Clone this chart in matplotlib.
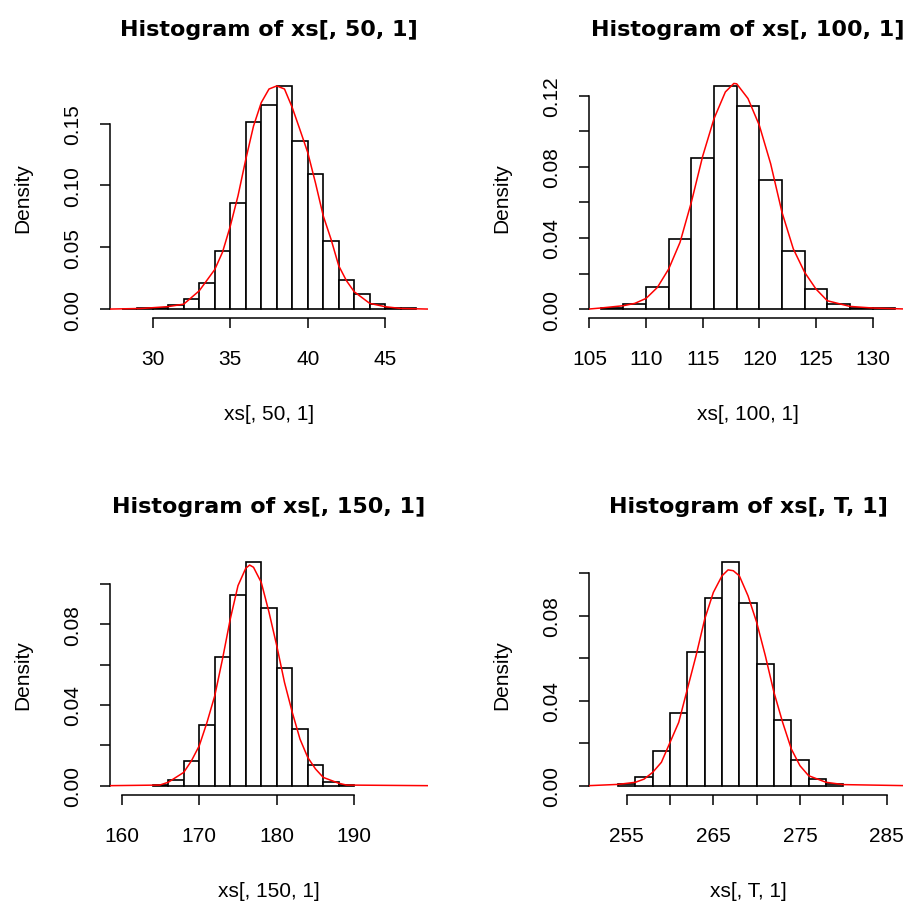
import matplotlib
matplotlib.use('Agg')
import matplotlib.pyplot as plt
import numpy as np

W, H = 904, 903

titles = ['Histogram of xs[, 50, 1]', 'Histogram of xs[, 100, 1]',
          'Histogram of xs[, 150, 1]', 'Histogram of xs[, T, 1]']
xlabels = ['xs[, 50, 1]', 'xs[, 100, 1]', 'xs[, 150, 1]', 'xs[, T, 1]']

# histogram breaks and densities
p1_breaks = list(range(28, 48))
p1_dens = [0.0, 0.0005, 0.001, 0.003, 0.008, 0.0207, 0.0469, 0.0856, 0.151,
           0.165, 0.1805, 0.136, 0.1093, 0.0552, 0.0237, 0.0121, 0.004,
           0.001, 0.0008]
p2_breaks = list(range(106, 133, 2))
p2_dens = [0.0006, 0.0028, 0.0122, 0.0395, 0.085, 0.1256, 0.1142, 0.0726,
           0.0329, 0.0113, 0.0028, 0.0006, 0.0008]
p3_breaks = list(range(164, 191, 2))
p3_dens = [0.0003, 0.003, 0.012, 0.0299, 0.064, 0.0947, 0.1107, 0.0879,
           0.0582, 0.0281, 0.0102, 0.0017, 0.0003]
p4_breaks = list(range(254, 281, 2))
p4_dens = [0.0006, 0.0041, 0.0162, 0.034, 0.063, 0.0882, 0.1051, 0.0858,
           0.0574, 0.0307, 0.0121, 0.0031, 0.0006]

# density curves (red)
p1_cx = [27.2, 29.3, 31, 32, 33, 34, 34.5, 35, 35.5, 36, 36.5, 37, 37.5, 38,
         38.5, 39, 39.5, 40, 40.5, 41, 41.5, 42, 42.5, 43, 44, 45, 46, 47.8]
p1_cy = [0.0, 0.0005, 0.002, 0.004, 0.0148, 0.032, 0.046, 0.067, 0.0916,
         0.121, 0.148, 0.167, 0.178, 0.1805, 0.178, 0.163, 0.145, 0.1266,
         0.102, 0.0754, 0.0566, 0.035, 0.0229, 0.014, 0.0046, 0.0019,
         0.0005, 0.0]
p2_cx = [104.9, 106, 108, 109, 110, 111, 112, 113, 114, 115, 116, 117,
         117.75, 118, 119, 120, 121, 122, 123, 124, 125, 126, 128, 130, 133.1]
p2_cy = [0.0, 0.0006, 0.0019, 0.0032, 0.006, 0.0122, 0.0226, 0.0376, 0.0602,
         0.0861, 0.1072, 0.1222, 0.127, 0.1268, 0.1185, 0.1034, 0.0818,
         0.0545, 0.0339, 0.0207, 0.0113, 0.0047, 0.0015, 0.0006, 0.0]
p3_cx = [158.4, 164.9, 166, 168, 169, 170, 171, 172, 173, 174, 175, 176,
         176.5, 177, 178, 179, 180, 181, 182, 183, 184, 185, 186, 188, 189,
         199.6]
p3_cy = [0.0, 0.0003, 0.0017, 0.0066, 0.0124, 0.0198, 0.0314, 0.0446,
         0.0628, 0.0826, 0.0992, 0.1078, 0.1094, 0.1083, 0.1008, 0.086,
         0.0694, 0.0512, 0.0364, 0.0231, 0.014, 0.0083, 0.0041, 0.0012,
         0.0003, 0.0]
p4_cx = [250.6, 254, 256, 257, 258, 259, 260, 261, 262, 263, 264, 265, 266,
         266.7, 267.3, 268, 269, 270, 271, 272, 273, 274, 275, 276, 278, 280,
         287.4]
p4_cy = [0.0, 0.0006, 0.0016, 0.0031, 0.0063, 0.011, 0.0204, 0.0298, 0.0455,
         0.0612, 0.0784, 0.091, 0.0988, 0.1016, 0.1012, 0.0988, 0.0894,
         0.0769, 0.0612, 0.0439, 0.0298, 0.0173, 0.0094, 0.0047, 0.0016,
         0.0005, 0.0]

# axis ticks
p1_xticks = [30, 35, 40, 45]
p1_xlabels = ['30', '35', '40', '45']
p1_yticks = [0.0, 0.05, 0.10, 0.15]
p1_ylabels = ['0.00', '0.05', '0.10', '0.15']
p2_xticks = [105, 110, 115, 120, 125, 130]
p2_xlabels = ['105', '110', '115', '120', '125', '130']
p2_yticks = [0.0, 0.02, 0.04, 0.06, 0.08, 0.10, 0.12]
p2_ylabels = ['0.00', '', '0.04', '', '0.08', '', '0.12']
p3_xticks = [160, 170, 180, 190]
p3_xlabels = ['160', '170', '180', '190']
p3_yticks = [0.0, 0.02, 0.04, 0.06, 0.08, 0.10]
p3_ylabels = ['0.00', '', '0.04', '', '0.08', '']
p4_xticks = [255, 260, 265, 270, 275, 280, 285]
p4_xlabels = ['255', '', '265', '', '275', '', '285']
p4_yticks = [0.0, 0.02, 0.04, 0.06, 0.08, 0.10]
p4_ylabels = ['0.00', '', '0.04', '', '0.08', '']

# x range used by each plot (R style, 4% padding)
p1_xrange = (28, 47)
p2_xrange = (106, 132)
p3_xrange = (160, 198)
p4_xrange = (252, 286)

panels = [
    (p1_breaks, p1_dens, p1_cx, p1_cy, p1_xticks, p1_xlabels, p1_yticks, p1_ylabels, p1_xrange),
    (p2_breaks, p2_dens, p2_cx, p2_cy, p2_xticks, p2_xlabels, p2_yticks, p2_ylabels, p2_xrange),
    (p3_breaks, p3_dens, p3_cx, p3_cy, p3_xticks, p3_xlabels, p3_yticks, p3_ylabels, p3_xrange),
    (p4_breaks, p4_dens, p4_cx, p4_cy, p4_xticks, p4_xlabels, p4_yticks, p4_ylabels, p4_xrange),
]

# plot regions in pixels: left, right, top, bottom
boxes = [(110, 428, 78, 319), (589, 907, 78, 319),
         (110, 428, 554.5, 795.6), (589, 907, 554.5, 795.6)]

AX_FONT = ['Liberation Sans', 'DejaVu Sans']
TITLE_FONT = ['DejaVu Sans']

fig = plt.figure(figsize=(W / 100, H / 100), dpi=100)

for i, (br, dens, cx, cy, xt, xl, yt, yl, xr) in enumerate(panels):
    l, r, t, b = boxes[i]
    ax = fig.add_axes([l / W, 1 - b / H, (r - l) / W, (b - t) / H])
    ax.patch.set_alpha(0)
    br = np.array(br, dtype=float)
    ax.bar(br[:-1], dens, width=np.diff(br), align='edge', color='white',
           edgecolor='black', linewidth=1.2, zorder=2)
    ax.plot(cx, cy, color='#ff0000', linewidth=1.1, zorder=3)

    span = xr[1] - xr[0]
    ax.set_xlim(xr[0] - 0.04 * span, xr[1] + 0.04 * span)
    ymax = max(dens)
    ax.set_ylim(-0.04 * ymax, 1.04 * ymax)

    for s in ('top', 'right'):
        ax.spines[s].set_visible(False)
    ax.spines['left'].set_bounds(yt[0], yt[-1])
    ax.spines['bottom'].set_bounds(xt[0], xt[-1])
    for s in ('left', 'bottom'):
        ax.spines[s].set_linewidth(1.1)

    ax.set_xticks(xt)
    ax.set_xticklabels(xl, family=AX_FONT, fontsize=15)
    ax.set_yticks(yt)
    ax.set_yticklabels(yl, family=AX_FONT, fontsize=15, rotation=90,
                       va='center')
    ax.tick_params(direction='out', length=7, width=1.1)
    ax.tick_params(axis='x', pad=15.5)
    ax.tick_params(axis='y', pad=13)

    ax.set_title(titles[i], family=TITLE_FONT, fontweight='bold',
                 fontsize=16, pad=30)
    ax.set_xlabel(xlabels[i], family=AX_FONT, fontsize=15, labelpad=26)
    ax.set_ylabel('Density', family=AX_FONT, fontsize=15, labelpad=22)

fig.savefig('out.png', dpi=100)
